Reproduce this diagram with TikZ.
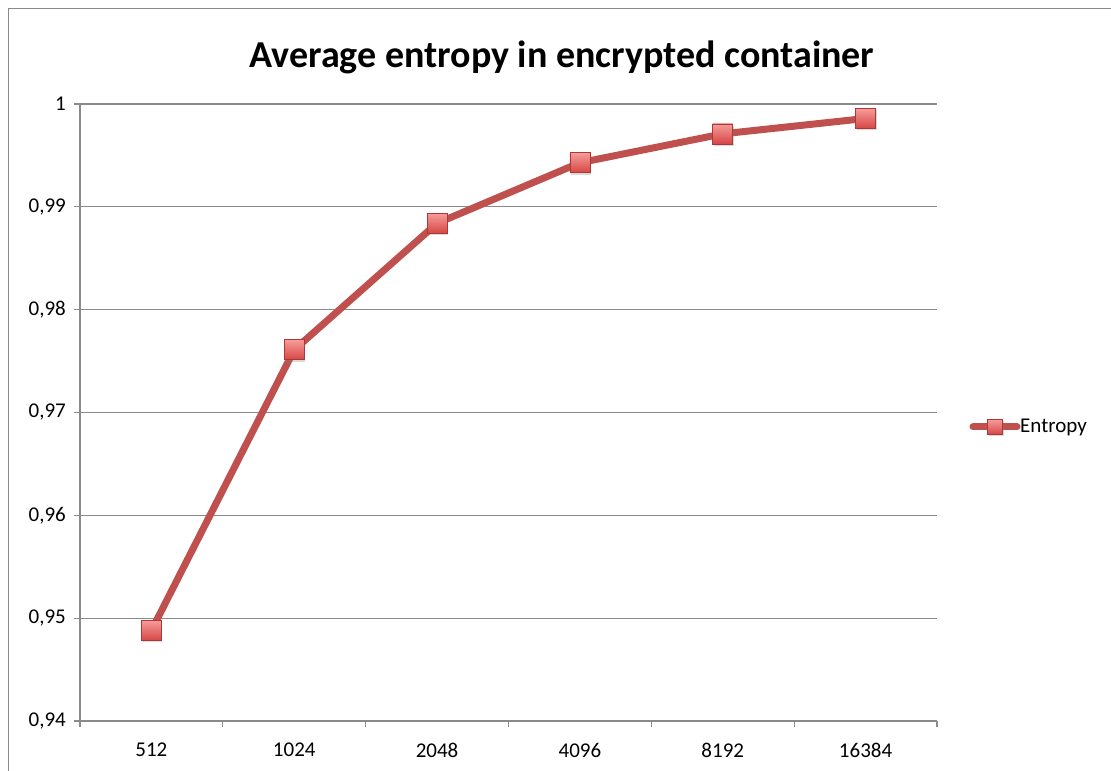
\documentclass[tikz,border=0pt]{standalone}
\usepackage{fontspec}
\setmainfont{Carlito}
\usepackage{tikz}
\usetikzlibrary{shadows}

\definecolor{gridgray}{RGB}{138,138,138}
\definecolor{entropyred}{RGB}{192,80,77}
\definecolor{markerlight}{RGB}{246,156,154}
\definecolor{markerdark}{RGB}{214,70,68}
\definecolor{markerrim}{RGB}{172,56,53}

\tikzset{
  gridline/.style={draw=gridgray, line width=1.1pt},
  entropyline/.style={draw=entropyred, line width=7pt, line join=round},
  entropymark/.style={rectangle, minimum size=20pt, inner sep=0pt,
    top color=markerlight, bottom color=markerdark, draw=markerrim, line width=0.6pt,
    drop shadow={shadow xshift=1pt, shadow yshift=-2pt, opacity=0.3}},
  ticklabel/.style={font=\fontsize{21}{25}\selectfont, inner sep=0pt},
}

\begin{document}
\begin{tikzpicture}[x=1pt,y=1pt]
\useasboundingbox (0,0) rectangle (1111,771);
% outer frame of the chart
\draw[gridline] (8.5,0) -- (8.5,762.5) -- (1111,762.5);
\node[font=\fontsize{38}{44}\selectfont\bfseries, anchor=base] (title) at (562,703)
  {Average entropy in encrypted container};
% horizontal grid with the value labels
\foreach \k/\lab in {0/{0,94},1/{0,95},2/{0,96},3/{0,97},4/{0,98},5/{0,99},6/1}{
  \draw[gridline] (74,{50+\k*102.83}) -- (937,{50+\k*102.83});
  \node[ticklabel, anchor=east] (val\k) at (66,{50+\k*102.83}) {\lab};
}
% axes and category ticks
\draw[gridline] (80,50) -- (80,667);
\foreach \i in {0,...,6}
  \draw[gridline] ({80+\i*142.83},50) -- ++(0,-6);
\foreach \i/\lab in {1/512,2/1024,3/2048,4/4096,5/8192,6/16384}
  \node[ticklabel] (cat\i) at ({80+(\i-0.5)*142.83},21) {\lab};
% the data series
\foreach \i/\v in {1/0.9488,2/0.9761,3/0.9884,4/0.9943,5/0.9971,6/0.9986}
  \coordinate (p\i) at ({80+(\i-0.5)*142.83},{50+(\v-0.94)*10283});
\draw[entropyline] (p1) -- (p2) -- (p3) -- (p4) -- (p5) -- (p6);
\foreach \i in {1,...,6}
  \node[entropymark] (mark\i) at (p\i) {};
% legend
\coordinate (legL) at (973,344);
\coordinate (legR) at (1017,344);
\draw[entropyline, line cap=round] (legL) -- (legR);
\node[entropymark, minimum size=15pt] (legmark) at (995,344) {};
\node[ticklabel, anchor=west] (legtext) at (1020,344) {Entropy};
\end{tikzpicture}
\end{document}
